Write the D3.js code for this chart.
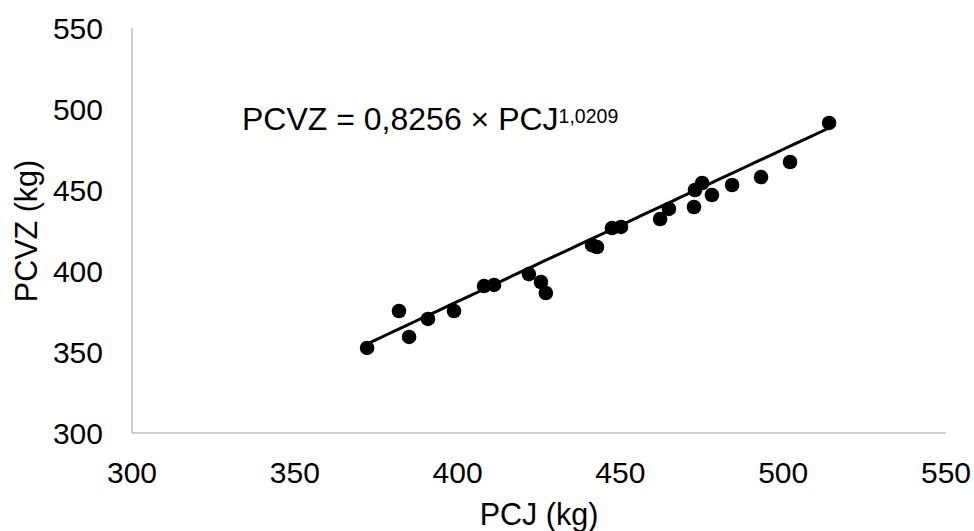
<!DOCTYPE html>
<html><head><meta charset="utf-8">
<script src="https://cdn.jsdelivr.net/npm/d3@7"></script>
<style>body{margin:0;background:#fff}svg{display:block}text{font-family:"Liberation Sans",Arial,sans-serif;fill:#000}</style>
</head><body><svg id="c" width="974" height="531"></svg>
<script>
const pcj  = [372.2,382.0,385.1,390.9,398.9,408.1,411.2,421.9,425.6,427.1,441.3,442.8,447.4,450.2,462.2,464.9,472.6,472.9,475.1,478.1,484.3,493.2,502.1,514.1];
const pcvz = [352.5,375.3,359.3,370.4,375.3,390.7,391.4,398.1,393.2,386.4,416.0,414.8,426.5,427.2,432.1,438.3,439.5,450.0,454.3,446.9,453.1,458.0,467.3,491.4];
const xTicks = [300,350,400,450,500,550];
const yTicks = [300,350,400,450,500,550];
const xTitle = "PCJ (kg)", yTitle = "PCVZ (kg)";
const eqMain = "PCVZ = 0,8256 × PCJ", eqExp = "1,0209";
// trend line as drawn in the picture (power form, read from its ends)
const trendStart = [372.2, 355.0];
const trendEnd   = [514.1, 488.3];

const svg = d3.select("#c");
const x = d3.scaleLinear().domain([300,550]).range([132,946]);
const y = d3.scaleLinear().domain([300,550]).range([433,28]);

svg.append("line").attr("x1",x(300)).attr("x2",x(550)).attr("y1",y(300)).attr("y2",y(300)).attr("stroke","#bfbfbf").attr("stroke-width",1.5);
svg.append("line").attr("x1",x(300)).attr("x2",x(300)).attr("y1",y(300)).attr("y2",y(550)).attr("stroke","#bfbfbf").attr("stroke-width",1.5);

svg.selectAll(".xt").data(xTicks).enter().append("text").attr("x",d=>x(d)).attr("y",483).attr("text-anchor","middle").style("font-size","30px").text(d=>d);
svg.selectAll(".yt").data(yTicks).enter().append("text").attr("x",103).attr("y",d=>y(d)+10.8).attr("text-anchor","end").style("font-size","30px").text(d=>d);

svg.append("text").attr("x",539).attr("y",525).attr("text-anchor","middle").style("font-size","30.5px").text(xTitle);
svg.append("text").attr("transform","translate(37,231) rotate(-90)").attr("text-anchor","middle").style("font-size","30.5px").text(yTitle);

// power trend curve y = a * x^b through the two read ends
const b = Math.log(trendEnd[1]/trendStart[1]) / Math.log(trendEnd[0]/trendStart[0]);
const a = trendEnd[1] / Math.pow(trendEnd[0], b);
const pts = d3.range(0,51).map(i=>{const v=trendStart[0]+(trendEnd[0]-trendStart[0])*i/50; return [v, a*Math.pow(v,b)];});
svg.append("path").attr("d",d3.line().x(d=>x(d[0])).y(d=>y(d[1]))(pts)).attr("fill","none").attr("stroke","#000").attr("stroke-width",3);

svg.selectAll("circle").data(pcj).enter().append("circle").attr("cx",d=>x(d)).attr("cy",(d,i)=>y(pcvz[i])).attr("r",7.3).attr("fill","#000");

const eq = svg.append("text").attr("x",242).attr("y",130).style("font-size","32px");
eq.append("tspan").text(eqMain);
eq.append("tspan").attr("dy",-7).style("font-size","19.5px").text(eqExp);
</script></body></html>
